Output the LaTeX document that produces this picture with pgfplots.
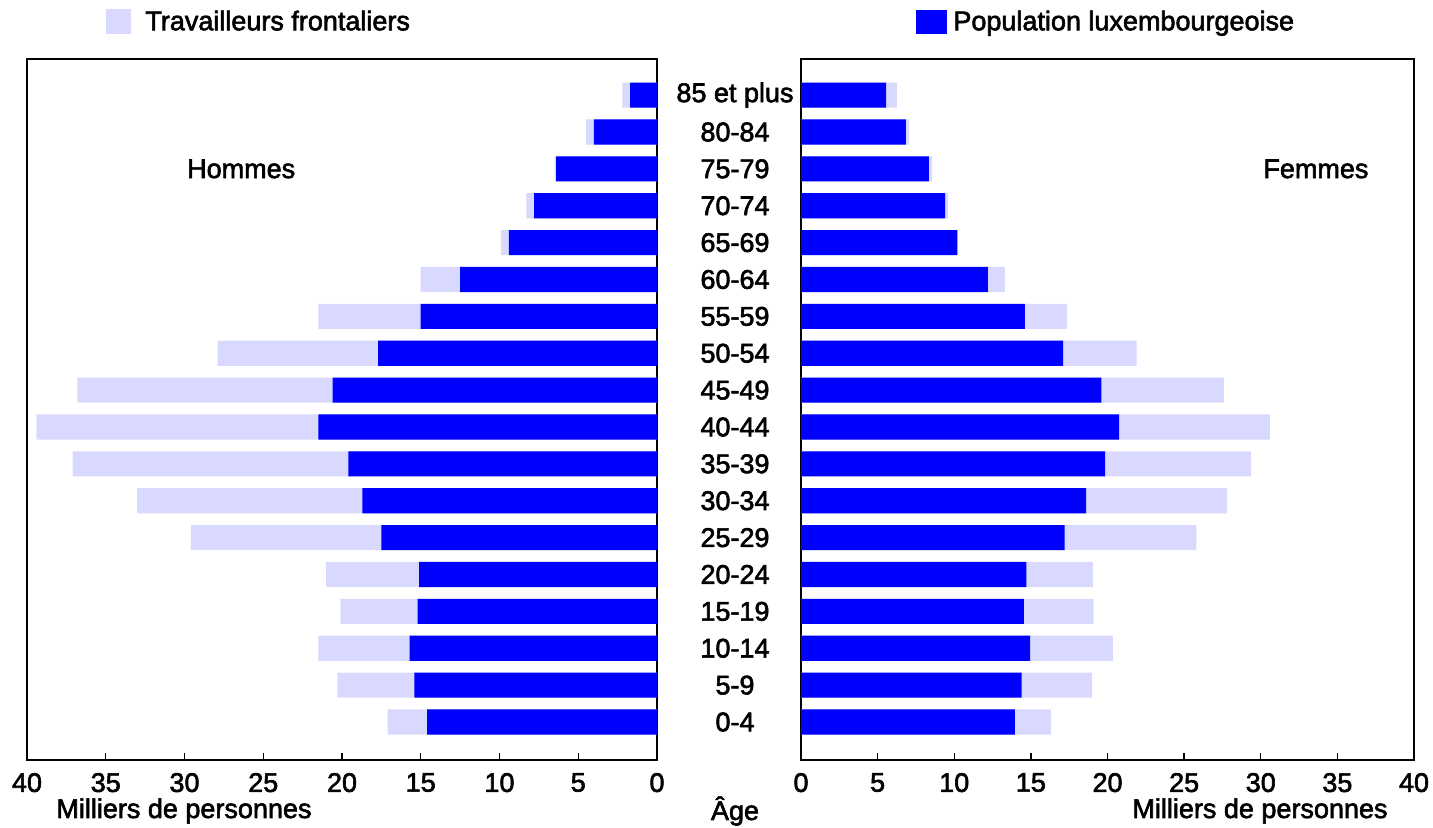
\documentclass[border=0pt]{standalone}
\usepackage{fontspec}
\setmainfont{Liberation Sans}
\newfontfamily\heavy[FakeBold=2.2]{Liberation Sans}
\usepackage{pgfplots}
\pgfplotsset{compat=1.18}
\usepackage{pgfplotstable}

\definecolor{frontal}{RGB}{217,217,255}
\definecolor{luxblue}{RGB}{0,0,255}

\newcommand{\fs}{\heavy\fontsize{13.5pt}{16pt}\selectfont}

% age groups 0-4 ... 85+ (y = 0 ... 17), thousands of persons
% tot = end of the light bar (population + frontaliers), lux = Luxembourg population
\pgfplotstableread{
y  tot   lux
0  17.1  14.6
1  20.3  15.4
2  21.5  15.7
3  20.1  15.2
4  21.0  15.1
5  29.6  17.5
6  33.0  18.7
7  37.1  19.6
8  39.4  21.5
9  36.8  20.6
10 27.9  17.7
11 21.5  15.0
12 15.0  12.5
13 9.9   9.4
14 8.3   7.8
15 6.5   6.4
16 4.5   4.0
17 2.2   1.7
}\hommes

\pgfplotstableread{
y  tot   lux
0  16.3  13.95
1  19.0  14.4
2  20.35 14.95
3  19.1  14.55
4  19.05 14.7
5  25.8  17.2
6  27.8  18.6
7  29.35 19.85
8  30.6  20.75
9  27.6  19.6
10 21.9  17.1
11 17.35 14.6
12 13.3  12.2
13 10.2  10.2
14 9.6   9.4
15 8.55  8.35
16 7.05  6.85
17 6.26  5.55
}\femmes

\pgfplotsset{
  pyr/.style={
    scale only axis,
    height=350.5pt,
    ymin=-1.03, ymax=17.98,
    xmin=0, xmax=40,
    xtick={0,5,...,40},
    xtick pos=lower,
    ytick={0,...,17},
    ytick style={draw=none},
    axis line style={line width=0.9pt},
    xtick style={line width=0.7pt, black},
    major tick length=3.5pt,
    tick align=inside,
    /pgf/number format/assume math mode=true,
    tick label style={font=\fs},
    xticklabel style={yshift=-3pt},
    xbar, bar width=0.68, bar shift=0pt,
    legend style={draw=none, fill=none, inner sep=0pt, font=\fs,
      legend cell align=left, anchor=west},
  },
}

\begin{document}
\begin{tikzpicture}
\useasboundingbox (0,0) rectangle (716.5pt,414pt);

\begin{axis}[pyr,
  at={(13.5pt,34pt)}, anchor=south west,
  width=315pt,
  x dir=reverse,
  yticklabel pos=right,
  yticklabels={0-4,5-9,10-14,15-19,20-24,25-29,30-34,35-39,40-44,45-49,50-54,55-59,60-64,65-69,70-74,75-79,80-84,85 et plus},
  yticklabel style={anchor=center, xshift=35.5pt},
  legend style={at={(axis description cs:0.1254,1.0528)},
    /tikz/every odd column/.append style={column sep=5pt}},
  legend image code/.code={\fill[#1] (0pt,-6.25pt) rectangle (12.5pt,6.25pt);},
]
\addplot[fill=frontal, draw=none] table[x=tot, y=y] {\hommes};
\addlegendentry{Travailleurs frontaliers}
\addplot[fill=luxblue, draw=none, forget plot] table[x=lux, y=y] {\hommes};
\node[font=\fs] at (axis cs:26.4,15) {Hommes};
\end{axis}

\begin{axis}[pyr,
  at={(400.5pt,34pt)}, anchor=south west,
  width=306.5pt,
  yticklabels={},
  legend style={at={(axis description cs:0.1876,1.0528)},
    /tikz/every odd column/.append style={column sep=1pt}},
  legend image code/.code={\fill[#1] (0pt,-6pt) rectangle (15.5pt,6pt);},
]
\addplot[fill=frontal, draw=none, forget plot] table[x=tot, y=y] {\femmes};
\addplot[fill=luxblue, draw=none] table[x=lux, y=y] {\femmes};
\addlegendentry{Population luxembourgeoise}
\node[font=\fs] at (axis cs:33.6,15) {Femmes};
\end{axis}

\node[font=\fs, anchor=base] at (92pt,5pt) {Milliers de personnes};
\node[font=\fs, anchor=base] at (630pt,5pt) {Milliers de personnes};
\node[font=\fs, anchor=base] at (367.5pt,4pt) {Âge};
\end{tikzpicture}
\end{document}
